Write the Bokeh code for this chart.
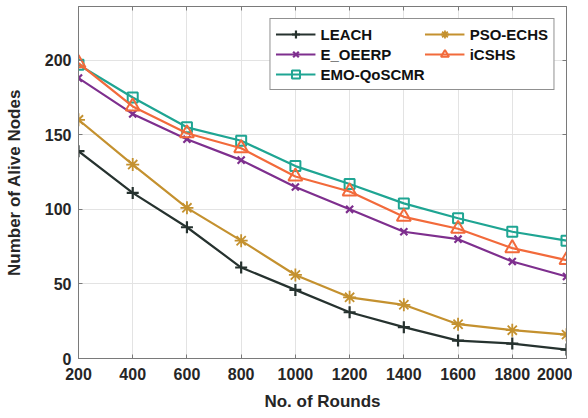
from bokeh.plotting import figure
from bokeh.models import Range1d, LinearAxis, FixedTicker
from bokeh.embed import file_html
from bokeh.resources import INLINE

rounds = [200, 400, 600, 800, 1000, 1200, 1400, 1600, 1800, 2000]
leach = [139, 111, 88, 61, 46, 31, 21, 12, 10, 6]
pso_echs = [160, 130, 101, 79, 56, 41, 36, 23, 19, 16]
e_oeerp = [188, 164, 147, 133, 115, 100, 85, 80, 65, 55]
icshs = [198, 169, 151, 141, 122, 112, 95, 87, 74, 66]
emo_qoscmr = [197, 175, 155, 146, 129, 117, 104, 94, 85, 79]

x_ticks = rounds
y_ticks = [0, 50, 100, 150, 200]

FONT = "Liberation Sans"
TXT = "#262626"
AX = "#7a7a7a"

p = figure(frame_width=488, frame_height=352, output_backend="svg", toolbar_location=None,
           x_range=Range1d(200, 2000), y_range=Range1d(0, 236),
           min_border_left=78, min_border_right=6, min_border_top=6, min_border_bottom=44)
p.outline_line_color = AX
p.outline_line_width = 1
p.background_fill_color = "white"
p.border_fill_color = "white"

for ax in (p.xaxis[0], p.yaxis[0]):
    ax.major_label_text_font = FONT
    ax.major_label_text_font_style = "bold"
    ax.major_label_text_font_size = "16px"
    ax.major_label_text_color = TXT
    ax.axis_label_text_font = FONT
    ax.axis_label_text_font_style = "bold"
    ax.axis_label_text_font_size = "17px"
    ax.axis_label_text_color = TXT
    ax.axis_line_color = AX
    ax.major_tick_line_color = AX
    ax.major_tick_in = 4
    ax.major_tick_out = 0
    ax.minor_tick_line_color = None

p.xaxis[0].ticker = FixedTicker(ticks=x_ticks)
p.yaxis[0].ticker = FixedTicker(ticks=y_ticks)
p.xaxis[0].axis_label = "No. of Rounds"
p.yaxis[0].axis_label = "Number of Alive Nodes"
p.xaxis[0].major_label_standoff = 9
p.xaxis[0].axis_label_standoff = 9
p.yaxis[0].major_label_standoff = 7
p.yaxis[0].axis_label_standoff = 18

top = LinearAxis(ticker=FixedTicker(ticks=x_ticks), major_label_text_alpha=0,
                 major_label_text_font_size="0px", major_label_standoff=0,
                 axis_line_color=AX, major_tick_line_color=AX, major_tick_in=4,
                 major_tick_out=0, minor_tick_line_color=None)
right = LinearAxis(ticker=FixedTicker(ticks=y_ticks), major_label_text_alpha=0,
                   major_label_text_font_size="0px", major_label_standoff=0,
                   axis_line_color=AX, major_tick_line_color=AX, major_tick_in=4,
                   major_tick_out=0, minor_tick_line_color=None)
p.add_layout(top, "above")
p.add_layout(right, "right")

p.xgrid.ticker = FixedTicker(ticks=x_ticks)
p.ygrid.ticker = FixedTicker(ticks=y_ticks)
p.grid.grid_line_color = "#e3e3e3"
p.grid.grid_line_width = 1

series = [
    ("LEACH", leach, "#26322f", "cross", 12, 2.2),
    ("E_OEERP", e_oeerp, "#7e2f8e", "x", 10, 2.2),
    ("EMO-QoSCMR", emo_qoscmr, "#1fa593", "square", 10, 2.0),
    ("PSO-ECHS", pso_echs, "#c4912f", "asterisk", 13, 1.8),
    ("iCSHS", icshs, "#f26a3b", "triangle", 14, 2.0),
]

for name, vals, col, mk, sz, lw in series:
    p.line(rounds, vals, line_color=col, line_width=2.2, legend_label=name)
    p.scatter(rounds, vals, marker=mk, size=sz, line_color=col, fill_color=None,
              line_width=lw, legend_label=name)

lg = p.legend[0]
lg.location = "top_right"
lg.margin = 12
lg.ncols = 2
lg.nrows = 3
lg.label_text_font = FONT
lg.label_text_font_style = "bold"
lg.label_text_font_size = "15px"
lg.label_text_color = "#111111"
lg.glyph_width = 40
lg.glyph_height = 20
lg.label_height = 20
lg.label_standoff = 5
lg.spacing = 0
lg.padding = 5
lg.border_line_color = "#222222"
lg.border_line_width = 1
lg.background_fill_color = "white"
lg.background_fill_alpha = 1

open("out.html", "w").write(file_html(p, INLINE))
